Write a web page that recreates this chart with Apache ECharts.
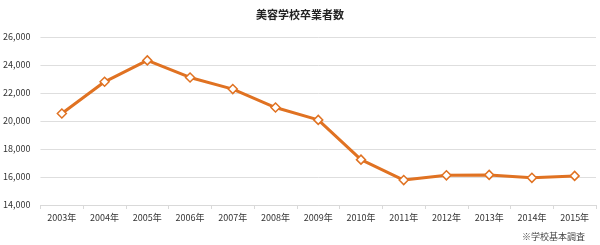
<!DOCTYPE html>
<html>
<head>
<meta charset="utf-8">
<script src="https://cdn.jsdelivr.net/npm/echarts@6/dist/echarts.min.js"></script>
<style>html,body{margin:0;padding:0;background:#fff;}#c{width:600px;height:245px;}</style>
</head>
<body>
<div id="c"></div>
<script>
const titleText = '美容学校卒業者数';
const noteText = '※学校基本調査';
const categories = ['2003年','2004年','2005年','2006年','2007年','2008年','2009年','2010年','2011年','2012年','2013年','2014年','2015年'];
const graduates = [20540, 22800, 24330, 23110, 22280, 20960, 20080, 17240, 15780, 16120, 16150, 15940, 16080];
const yMin = 14000, yMax = 26000, yStep = 2000;

const chart = echarts.init(document.getElementById('c'), null, {renderer: 'canvas'});
const font = '"Noto Sans CJK JP", "Noto Sans", sans-serif';
chart.setOption({
  animation: false,
  backgroundColor: '#fff',
  title: [{
    text: titleText, left: 'center', top: 4,
    textStyle: {fontSize: 11, fontWeight: 'bold', color: '#222', fontFamily: font}
  }, {
    text: noteText, right: 10, top: 227,
    textStyle: {fontSize: 9, fontWeight: 'normal', color: '#444', fontFamily: font}
  }],
  grid: {left: 38, right: 4, top: 37, bottom: 40, containLabel: false},
  xAxis: {
    type: 'category', data: categories, boundaryGap: true,
    axisLine: {lineStyle: {color: '#d9d9d9'}},
    axisTick: {show: true, length: 4, lineStyle: {color: '#d9d9d9'}},
    axisLabel: {fontSize: 9, color: '#333', margin: 8, fontFamily: font}
  },
  yAxis: {
    type: 'value', min: yMin, max: yMax, interval: yStep,
    axisLine: {show: false}, axisTick: {show: false},
    splitLine: {lineStyle: {color: '#dedede'}},
    axisLabel: {fontSize: 9, color: '#333', margin: 10, fontFamily: font,
      formatter: v => v.toLocaleString('en-US')}
  },
  series: [{
    type: 'line', data: graduates,
    symbol: 'diamond', symbolSize: 9,
    lineStyle: {color: '#E07222', width: 3},
    itemStyle: {color: '#fff', borderColor: '#E07222', borderWidth: 1.5}
  }]
});
</script>
</body>
</html>
